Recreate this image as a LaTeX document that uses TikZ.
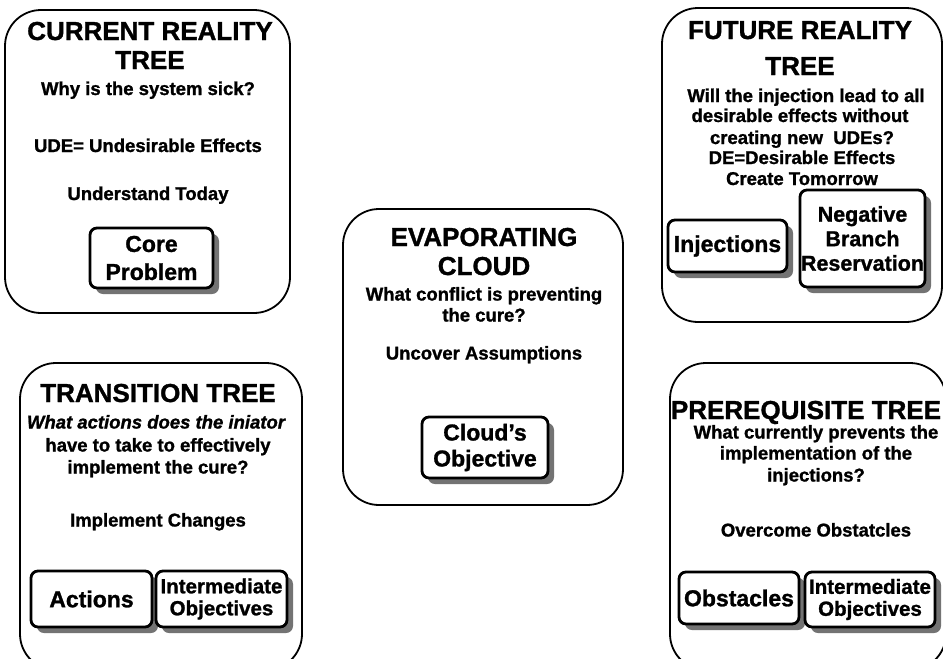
\documentclass[tikz,border=0pt]{standalone}
\usepackage{fontspec}
\setmainfont{Liberation Sans}[BoldFeatures={FakeBold=1.2}, BoldItalicFeatures={FakeBold=1.2}]
\usetikzlibrary{shadows}
\begin{document}
\begin{tikzpicture}[x=1pt,y=-1pt,
  panel/.style={draw, line width=1.8pt, rounded corners=36pt, inner sep=0pt},
  title/.style={anchor=base, inner sep=0pt, font=\fontsize{26}{29}\selectfont\bfseries},
  body/.style={anchor=base, inner sep=0pt, font=\fontsize{18.5}{21}\selectfont\bfseries},
  tbox/.style={draw, line width=2.8pt, rounded corners=7pt, fill=white, align=center,
    inner sep=0pt, font=\fontsize{23}{28}\selectfont\bfseries,
    drop shadow={shadow xshift=6pt, shadow yshift=-6pt, fill=black!55, opacity=1}},
]
\useasboundingbox (0,0) rectangle (943,659);
\clip (0,0) rectangle (943,659);
\fill[white] (0,0) rectangle (943,659);

% ---------- panels ----------
\node[panel, minimum width=285pt, minimum height=303pt] (crt) at (147.5,161.5) {};
\node[panel, minimum width=280pt, minimum height=314pt] (frt) at (802,165) {};
\node[panel, minimum width=280pt, minimum height=296pt] (ec) at (483,357) {};
\node[panel, minimum width=282pt, minimum height=307pt] (tt) at (161,516.5) {};
\node[panel, minimum width=276pt, minimum height=307pt] (pt) at (808,516.5) {};

% ---------- Current Reality Tree ----------
\node[title] (crt1) at (150,40) {CURRENT REALITY};
\node[title] (crt2) at (150,69) {TREE};
\node[body] (crt3) at (148,95) {Why is the system sick?};
\node[body] (crt4) at (148,152) {UDE= Undesirable Effects};
\node[body] (crt5) at (148,200) {Understand Today};
\node[tbox, minimum width=123pt, minimum height=60pt] (core) at (151.5,258) {Core\\Problem};

% ---------- Future Reality Tree ----------
\node[title] (frt1) at (800,39) {FUTURE REALITY};
\node[title] (frt2) at (800,75) {TREE};
\node[body] (frt3) at (806,102) {Will the injection lead to all};
\node[body] (frt4) at (800,122) {desirable effects without};
\node[body] (frt5) at (802,144) {creating new\ \ UDEs?};
\node[body] (frt6) at (802,164) {DE=Desirable Effects};
\node[body] (frt7) at (802,185) {Create Tomorrow};
\node[tbox, minimum width=119pt, minimum height=52pt] (inj) at (727.5,246) {Injections};
\node[tbox, minimum width=125pt, minimum height=97pt, font=\fontsize{21.5}{24.5}\selectfont\bfseries] (nbr) at (862.5,238.5) {Negative\\Branch\\Reservation};

% ---------- Evaporating Cloud ----------
\node[title] (ec1) at (484,246) {EVAPORATING};
\node[title] (ec2) at (484,275) {CLOUD};
\node[body] (ec3) at (484,300.5) {What conflict is preventing};
\node[body] (ec4) at (484,321.5) {the cure?};
\node[body] (ec5) at (484,359.5) {Uncover Assumptions};
\node[tbox, minimum width=126pt, minimum height=61pt, font=\fontsize{23}{26}\selectfont\bfseries] (cobj) at (485,447.5) {Cloud's\\Objective};

% ---------- Transition Tree ----------
\node[title] (tt1) at (158,402) {TRANSITION TREE};
\node[body] (tt2) at (156,428.5) {\itshape What actions does the iniator};
\node[body] (tt3) at (158,451.5) {have to take to effectively};
\node[body] (tt4) at (158,473.5) {implement the cure?};
\node[body] (tt5) at (158,526.5) {Implement Changes};
\node[tbox, minimum width=121pt, minimum height=56pt] (act) at (91.5,599) {Actions};
\node[tbox, minimum width=131pt, minimum height=56pt, font=\fontsize{20.5}{22}\selectfont\bfseries] (tio) at (221.5,599) {Intermediate\\Objectives};

% ---------- Prerequisite Tree ----------
\node[title] (pt1) at (806,419) {PREREQUISITE TREE};
\node[body] (pt2) at (816,438.5) {What currently prevents the};
\node[body] (pt3) at (816,459.5) {implementation of the};
\node[body] (pt4) at (816,481.5) {injections?};
\node[body] (pt5) at (816,536.5) {Overcome Obstatcles};
\node[tbox, minimum width=120pt, minimum height=52pt] (obs) at (739,598) {Obstacles};
\node[tbox, minimum width=130pt, minimum height=55pt, font=\fontsize{20.5}{22}\selectfont\bfseries] (pio) at (870,599.5) {Intermediate\\Objectives};
\end{tikzpicture}
\end{document}
